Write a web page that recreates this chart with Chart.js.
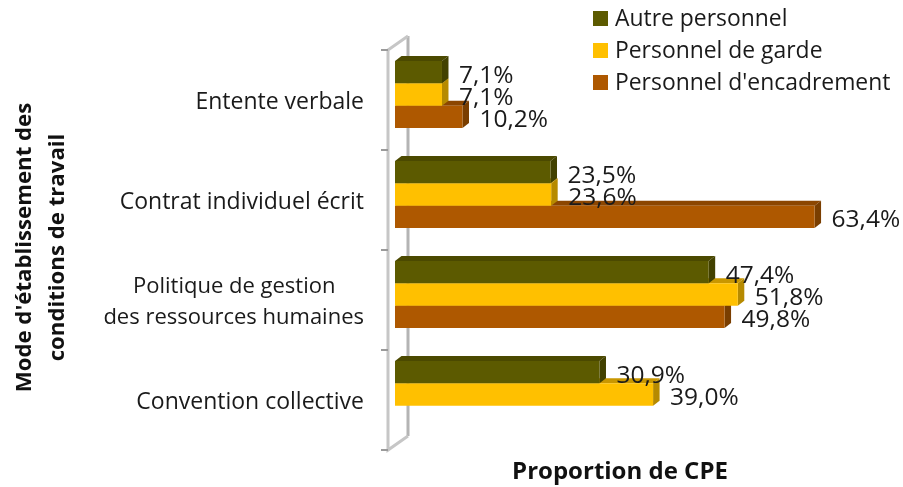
<!DOCTYPE html>
<html><head><meta charset="utf-8">
<style>html,body{margin:0;padding:0;background:#fff}canvas{display:block}</style>
<script src="https://cdn.jsdelivr.net/npm/chart.js@4"></script></head>
<body><canvas id="c" width="903" height="487"></canvas>
<script>
const categories=["Entente verbale","Contrat individuel écrit",["Politique de gestion     ","des ressources humaines"],"Convention collective"];
const seriesNames=["Autre personnel","Personnel de garde","Personnel d'encadrement"];
const autrePersonnel=[7.1,23.5,47.4,30.9];
const personnelGarde=[7.1,23.6,51.8,39.0];
const personnelEncadrement=[10.2,63.4,49.8,null];
const xTitle="Proportion de CPE";
const yTitle=["Mode d'établissement des","conditions de travail"];
const fronts=["#5c5a00","#ffc000","#ae5800"];
const tops=["#4b4900","#c99700","#8c4600"];
const sides=["#424100","#b68a00","#7a3e00"];
const FONT="'Open Sans', sans-serif";
const DX=6.5,DY=5;
const fmt=v=>v.toFixed(1).replace(".",",")+"%";

const depth={id:"depth",
 beforeDatasetsDraw(chart){
  const {ctx,scales:{x,y}}=chart;
  const x0=x.getPixelForValue(0), band=(y.bottom-y.top)/categories.length, shift=5.5;
  ctx.save();
  ctx.strokeStyle="#b4b4b4";ctx.lineWidth=3;
  const fx=x0-7,bx=x0+13,t=y.top+shift,b=y.bottom+shift;
  ctx.beginPath();ctx.moveTo(bx,t-14);ctx.lineTo(bx,b-14);ctx.stroke();
  ctx.strokeStyle="#c6c6c6";
  ctx.beginPath();ctx.moveTo(bx,t-14);ctx.lineTo(fx,t);ctx.lineTo(fx,b);ctx.lineTo(bx,b-14);ctx.stroke();
  ctx.strokeStyle="#9a9a9a";ctx.lineWidth=2;
  for(let i=0;i<=categories.length;i++){const p=t+i*band;ctx.beginPath();ctx.moveTo(fx-7,p);ctx.lineTo(fx,p);ctx.stroke();}
  ctx.restore();
 },
 beforeDatasetDraw(chart,args){
  const {ctx}=chart,i=args.index,meta=args.meta;
  ctx.save();
  meta.data.forEach((bar,k)=>{
   if(chart.data.datasets[i].data[k]==null)return;
   const p=bar.getProps(["x","y","base","height"],true);
   const T=p.y-p.height/2,B=p.y+p.height/2;
   ctx.fillStyle=tops[i];
   ctx.beginPath();ctx.moveTo(p.base,T);ctx.lineTo(p.base+DX,T-DY);ctx.lineTo(p.x+DX,T-DY);ctx.lineTo(p.x,T);ctx.closePath();ctx.fill();
   ctx.fillStyle=sides[i];
   ctx.beginPath();ctx.moveTo(p.x,T);ctx.lineTo(p.x+DX,T-DY);ctx.lineTo(p.x+DX,B-DY);ctx.lineTo(p.x,B);ctx.closePath();ctx.fill();
  });
  ctx.restore();
 },
 afterDatasetsDraw(chart){
  const {ctx,scales:{y}}=chart;
  ctx.save();
  ctx.font="24.5px "+FONT;ctx.fillStyle="#1a1a1a";ctx.textAlign="left";ctx.textBaseline="middle";
  chart.data.datasets.forEach((ds,i)=>{
   chart.getDatasetMeta(i).data.forEach((bar,k)=>{
    if(ds.data[k]==null)return;
    const p=bar.getProps(["x","y"],true);
    ctx.fillText(fmt(ds.data[k]),p.x+17,p.y+3.5);
   });
  });
  ctx.font="22.9px "+FONT;
  seriesNames.forEach((n,i)=>{
   const yy=18+i*32;
   ctx.fillStyle=fronts[i];ctx.fillRect(593,yy-7,15,15);
   ctx.fillStyle="#1a1a1a";ctx.fillText(n,615,yy+1);
  });
  ctx.fillStyle="#111";ctx.font="bold 22.2px "+FONT;ctx.textAlign="center";
  ctx.translate(25,(y.top+y.bottom)/2+3);ctx.rotate(-Math.PI/2);
  yTitle.forEach((line,i)=>ctx.fillText(line,0,i*33));
  ctx.restore();
 }};

new Chart(document.getElementById("c"),{
 type:"bar",
 data:{labels:categories,datasets:[
  {label:seriesNames[0],data:autrePersonnel,backgroundColor:fronts[0]},
  {label:seriesNames[1],data:personnelGarde,backgroundColor:fronts[1]},
  {label:seriesNames[2],data:personnelEncadrement,backgroundColor:fronts[2]}]},
 options:{indexAxis:"y",responsive:false,animation:false,
  layout:{padding:{left:8.5,right:58,top:44.5,bottom:0}},
  datasets:{bar:{categoryPercentage:0.67,barPercentage:1}},
  plugins:{legend:{display:false},tooltip:{enabled:false}},
  scales:{
   x:{min:0,max:68,grid:{display:false},border:{display:false},ticks:{display:false},
    title:{display:true,text:xTitle,color:"#111",font:{family:FONT,size:24,weight:"bold",lineHeight:1.2},padding:{top:16,bottom:0}},
    afterFit(s){s.height=487-444.5;}},
   y:{grid:{display:false},border:{display:false},
    ticks:{color:"#1a1a1a",font:c=>({family:FONT,size:c.index===2?22:23,lineHeight:c.index===2?1.41:1.35}),padding:23,labelOffset:7.5,autoSkip:false},
    afterFit(s){s.width=386.5;}}
  }},
 plugins:[depth]
});
</script></body></html>
